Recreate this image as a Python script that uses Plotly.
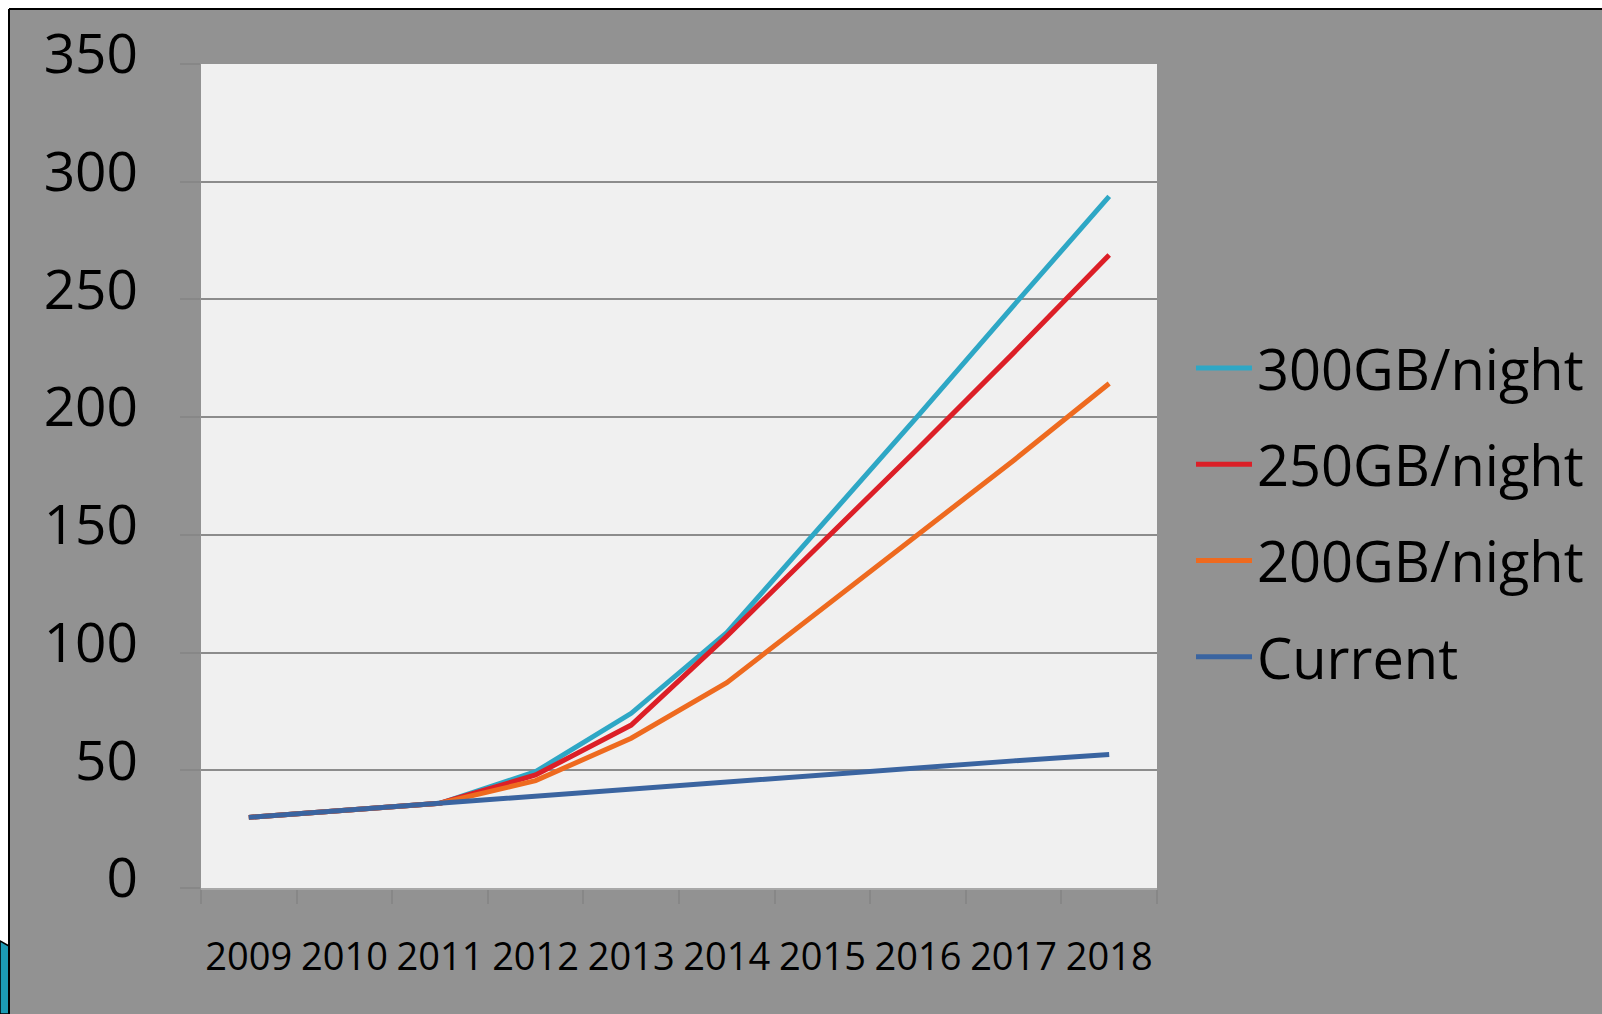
import plotly.graph_objects as go

years = ["2009", "2010", "2011", "2012", "2013", "2014", "2015", "2016", "2017", "2018"]
s300 = [30, 33, 36, 49.4, 74.2, 108.5, 154.4, 200.5, 247.4, 293.8]
s250 = [30, 33, 36, 48.0, 69.2, 107.0, 146.8, 186.7, 227.3, 268.9]
s200 = [30, 33, 36, 45.6, 63.6, 87.2, 118.5, 150.4, 181.6, 214.3]
current = [30, 33, 36, 38.8, 41.9, 45.3, 48.3, 51.0, 54.0, 56.7]

series_names = ["300GB/night", "250GB/night", "200GB/night", "Current"]
series_vals = [s300, s250, s200, current]
series_colors = ["#2EA7C5", "#DC1F27", "#EE6A1F", "#3A64A0"]

W, H = 1602, 1014
L, R, T, B = 201, 1157, 64, 888
FONT = "Open Sans"


def px(x):
    return (x - L) / (R - L)


def py(y):
    return (B - y) / (B - T)


fig = go.Figure()
for name, vals, col in zip(series_names, series_vals, series_colors):
    fig.add_trace(go.Scatter(
        x=years, y=vals, mode="lines", name=name, legendgroup=name,
        line=dict(color=col, width=5),
    ))

shapes = [
    dict(type="rect", xref="paper", yref="paper", x0=px(0), x1=px(W), y0=py(0), y1=py(9),
         fillcolor="white", line=dict(width=0), layer="above"),
    dict(type="rect", xref="paper", yref="paper", x0=px(0), x1=px(9), y0=py(0), y1=py(H),
         fillcolor="white", line=dict(width=0), layer="above"),
    dict(type="path", xref="paper", yref="paper",
         path=f"M {px(0)},{py(941)} L {px(9)},{py(946)} L {px(9)},{py(H)} L {px(0)},{py(H)} Z",
         fillcolor="#1C9AB4", line=dict(color="black", width=1.5), layer="above"),
    dict(type="line", xref="paper", yref="paper", x0=px(9), x1=px(W), y0=py(9), y1=py(9),
         line=dict(color="black", width=2), layer="above"),
    dict(type="line", xref="paper", yref="paper", x0=px(9), x1=px(9), y0=py(9), y1=py(H),
         line=dict(color="black", width=2), layer="above"),
]

fig.update_layout(
    width=W, height=H, autosize=False,
    margin=dict(l=L, r=W - R, t=T, b=H - B, autoexpand=False),
    paper_bgcolor="#929292",
    plot_bgcolor="#F0F0F0",
    font=dict(family=FONT, color="black"),
    shapes=shapes,
    showlegend=True,
    legend=dict(
        x=px(1191), y=py(325), xanchor="left", yanchor="top",
        font=dict(family=FONT, size=56, color="black"),
        bgcolor="rgba(0,0,0,0)", borderwidth=0,
        tracegroupgap=20.5, itemwidth=56,
    ),
    xaxis=dict(
        type="category", range=[-0.5, 9.5], showgrid=False, zeroline=False,
        showline=True, linecolor="#A8A8A8", linewidth=2,
        ticks="outside", tickson="boundaries", ticklen=14, tickwidth=2, tickcolor="#878787",
        tickangle=0,
        tickfont=dict(family=FONT, size=38, color="black"),
        ticklabelstandoff=34,
    ),
    yaxis=dict(
        range=[0, 350], dtick=50, tick0=0,
        showgrid=True, gridcolor="#8C8C8C", gridwidth=2,
        zeroline=False, showline=False,
        ticks="outside", ticklen=20, tickwidth=2, tickcolor="#878787",
        tickfont=dict(family=FONT, size=55, color="black"),
        ticklabelstandoff=31, ticklabelshift=-10,
    ),
)

fig.write_html("out.html")
